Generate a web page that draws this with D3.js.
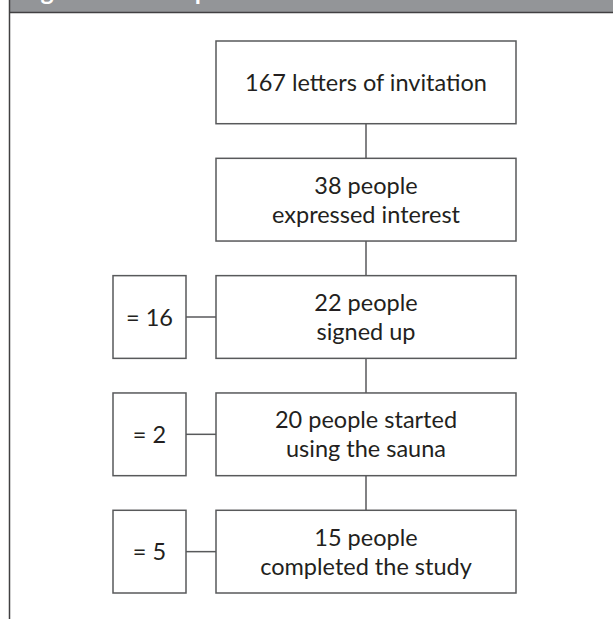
<!DOCTYPE html>
<html>
<head>
<meta charset="utf-8">
<script src="https://cdn.jsdelivr.net/npm/d3@7"></script>
<style>
body{margin:0;background:#fff;}
svg{display:block;}
</style>
</head>
<body>
<script>
var width=613,height=619;
var title="Figure 1: Participant flow";
// main flow steps, one entry per box (lines of text)
var steps=[
  ["167 letters of invitation"],
  ["38 people","expressed interest"],
  ["22 people","signed up"],
  ["20 people started","using the sauna"],
  ["15 people","completed the study"]
];
// drop-outs beside the step they lead to
var dropStep=[2,3,4];
var dropCount=[16,2,5];

var ink="#231f20",line="#58595b";
var fs="23.5px";

var svg=d3.select("body").append("svg")
          .attr("width",width)
          .attr("height",height)
          .style("font-family","Lato, 'Open Sans', sans-serif")

// header strip (title is cut off by the top edge, as in the source)
svg.append("rect")
   .attr("x",9).attr("y",0)
   .attr("width",width-9).attr("height",12.5)
   .attr("fill","#939598")
svg.append("text")
   .attr("x",20).attr("y",-0.5)
   .attr("fill","#fff")
   .style("font-size","25px")
   .style("font-weight","bold")
   .text(title)
svg.append("line")
   .attr("x1",9).attr("x2",width)
   .attr("y1",12.5).attr("y2",12.5)
   .attr("stroke","#414042").attr("stroke-width",1.5)
svg.append("line")
   .attr("x1",9.5).attr("x2",9.5)
   .attr("y1",0).attr("y2",height)
   .attr("stroke","#414042").attr("stroke-width",1.5)

var y=d3.scaleBand()
        .domain(d3.range(steps.length))
        .range([41,593])
        .paddingInner(0.295)
var x=d3.scaleLinear().domain([0,1]).range([216,516]);
var xl=d3.scaleLinear().domain([0,1]).range([113,186]);
var lh=29;

// vertical connectors
svg.selectAll("line.vconn")
   .data(d3.range(steps.length-1))
   .enter()
   .append("line")
   .attr("class","vconn")
   .attr("x1",x(0.5)).attr("x2",x(0.5))
   .attr("y1",function(d){return y(d)+y.bandwidth();})
   .attr("y2",function(d){return y(d+1);})
   .attr("stroke",line).attr("stroke-width",1.5)

// horizontal connectors to drop boxes
svg.selectAll("line.hconn")
   .data(dropStep)
   .enter()
   .append("line")
   .attr("class","hconn")
   .attr("x1",xl(1)).attr("x2",x(0))
   .attr("y1",function(d){return y(d)+y.bandwidth()/2;})
   .attr("y2",function(d){return y(d)+y.bandwidth()/2;})
   .attr("stroke",line).attr("stroke-width",1.5)

var boxes=svg.selectAll("g.step")
             .data(steps)
             .enter()
             .append("g")
             .attr("class","step")
boxes.append("rect")
     .attr("x",x(0))
     .attr("y",function(d,i){return y(i);})
     .attr("width",x(1)-x(0))
     .attr("height",y.bandwidth())
     .attr("fill","#fff")
     .attr("stroke",line).attr("stroke-width",1.5)
boxes.each(function(d,i){
  var g=d3.select(this);
  var cy=y(i)+y.bandwidth()/2;
  g.selectAll("text")
   .data(d)
   .enter()
   .append("text")
   .attr("x",x(0.5))
   .attr("y",function(t,j){return cy+(j-(d.length-1)/2)*lh+8.5;})
   .attr("text-anchor","middle")
   .attr("fill",ink)
   .style("font-size",fs)
   .text(function(t){return t;})
})

var drops=svg.selectAll("g.drop")
             .data(dropStep)
             .enter()
             .append("g")
             .attr("class","drop")
drops.append("rect")
     .attr("x",xl(0))
     .attr("y",function(d){return y(d);})
     .attr("width",xl(1)-xl(0))
     .attr("height",y.bandwidth())
     .attr("fill","#fff")
     .attr("stroke",line).attr("stroke-width",1.5)
drops.append("text")
     .attr("x",xl(0.5))
     .attr("y",function(d){return y(d)+y.bandwidth()/2+8.5;})
     .attr("text-anchor","middle")
     .attr("fill",ink)
     .style("font-size",fs)
     .text(function(d,i){return "= "+dropCount[i];})
</script>
</body>
</html>
